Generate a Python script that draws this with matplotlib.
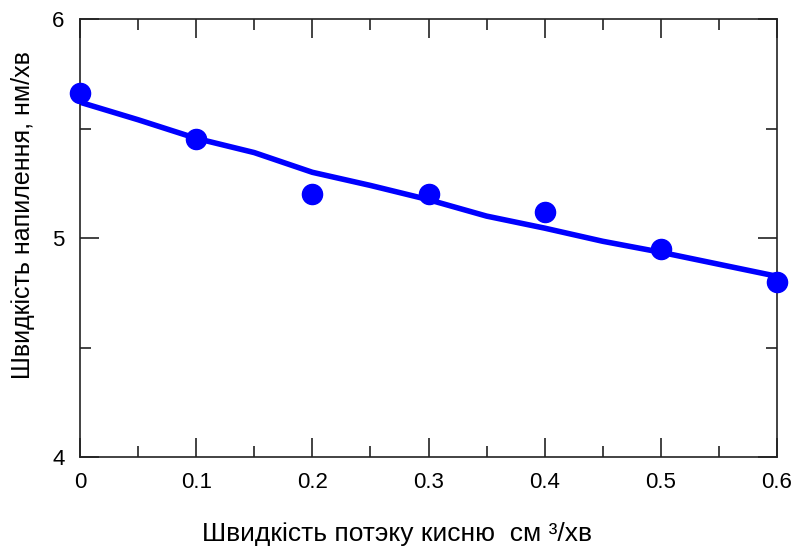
import matplotlib.pyplot as plt
from matplotlib.ticker import MultipleLocator

# точки вимірювань
potik = [0.0, 0.1, 0.2, 0.3, 0.4, 0.5, 0.6]
shvydkist = [5.66, 5.45, 5.20, 5.20, 5.12, 4.95, 4.80]

# апроксимуюча крива
potik_liniya = [0.0, 0.05, 0.1, 0.15, 0.2, 0.25, 0.3, 0.35, 0.4, 0.45, 0.5, 0.55, 0.6]
shvydkist_liniya = [5.62, 5.54, 5.455, 5.39, 5.30, 5.24, 5.175, 5.10, 5.045, 4.985, 4.935, 4.88, 4.825]

x_ticks = [0, 0.1, 0.2, 0.3, 0.4, 0.5, 0.6]
x_tick_labels = ["0", "0.1", "0.2", "0.3", "0.4", "0.5", "0.6"]
y_ticks = [4, 5, 6]
y_tick_labels = ["4", "5", "6"]

plt.rcParams['font.family'] = ['Liberation Sans', 'DejaVu Sans']

fig = plt.figure(figsize=(7.91, 5.49), dpi=100)
ax = fig.add_axes([80 / 791, 92 / 549, 697 / 791, 438 / 549])

ax.plot(potik_liniya, shvydkist_liniya, color="#0000ff", lw=4, solid_capstyle="butt", zorder=2)
ax.plot(potik, shvydkist, "o", color="#0000ff", ms=14.5, zorder=3, clip_on=False)

ax.set_xlim(0, 0.6)
ax.set_ylim(4, 6)
ax.set_xticks(x_ticks)
ax.set_xticklabels(x_tick_labels)
ax.set_yticks(y_ticks)
ax.set_yticklabels(y_tick_labels)
ax.xaxis.set_minor_locator(MultipleLocator(0.05))
ax.yaxis.set_minor_locator(MultipleLocator(0.5))

ax.tick_params(which="both", direction="in", top=True, right=True, color="#222222", width=1.2)
ax.tick_params(which="major", length=14, pad=11, labelsize=16)
ax.tick_params(which="minor", length=8)
for s in ax.spines.values():
    s.set_linewidth(1.2)
    s.set_color("#222222")

# підписи осей
ax.text(0.455, -0.175, "Швидкість потэку кисню  см ³/хв", transform=ax.transAxes,
        ha="center", va="center", fontsize=19)
ax.text(-0.082, 0.553, "Швидкість напилення, нм/хв", transform=ax.transAxes,
        ha="center", va="center", rotation=90, fontsize=18)

fig.savefig("out.png", dpi=100)
